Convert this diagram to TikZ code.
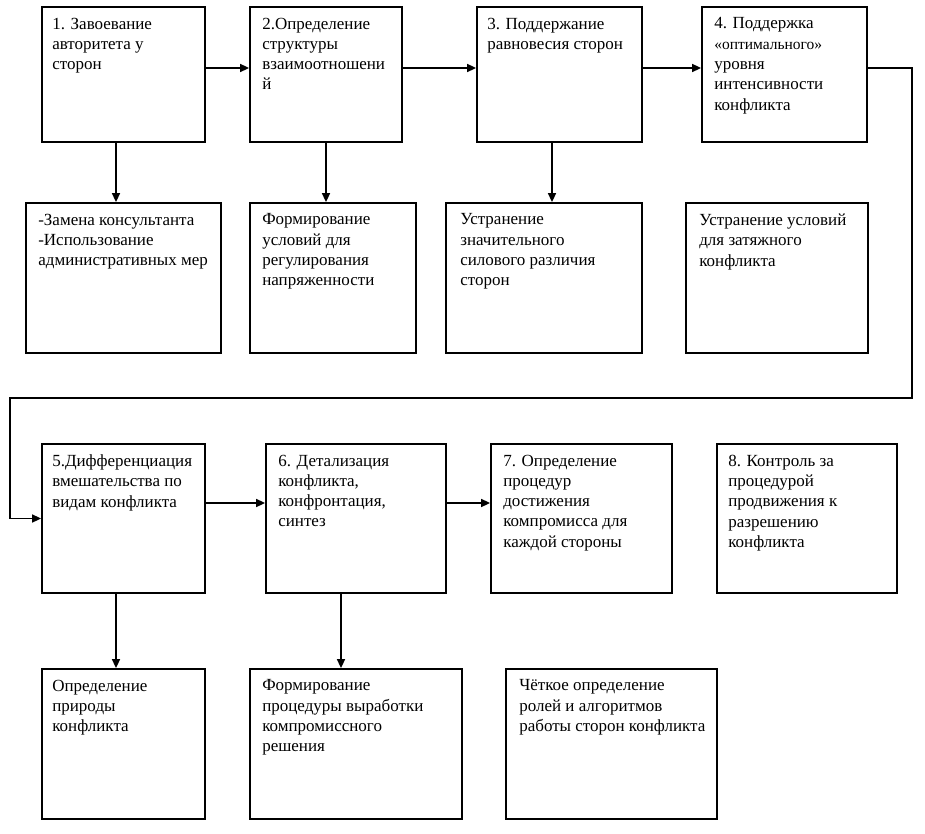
\documentclass[tikz,border=0pt]{standalone}
\usepackage{fontspec}
\setmainfont{Liberation Serif}
\usetikzlibrary{arrows.meta,fit}
\begin{document}
\begin{tikzpicture}[x=1pt,y=-1pt,
  box/.style={draw=black,line width=1.8pt,rectangle,inner sep=0pt},
  txt/.style={anchor=north west,inner sep=0pt,align=left,font=\fontsize{17}{20.3}\selectfont},
  conn/.style={line width=1.6pt},
  arr/.style={conn,-{Triangle[length=9pt,width=8pt]}}]
\fill[white] (0,0) rectangle (925,834);
\useasboundingbox (0,0) rectangle (925,834);
% boxes
\node[box,fit={(42,7) (205,142)}] (b1) {};
\node[box,fit={(250,7) (402,142)}] (b2) {};
\node[box,fit={(477,7) (642,142)}] (b3) {};
\node[box,fit={(702,7) (867,142)}] (b4) {};
\node[box,fit={(26,203) (221,353)}] (c1) {};
\node[box,fit={(250,203) (416,353)}] (c2) {};
\node[box,fit={(446,203) (642,353)}] (c3) {};
\node[box,fit={(686,203) (868,353)}] (c4) {};
\node[box,fit={(42,444) (205,593)}] (b5) {};
\node[box,fit={(266,444) (446,593)}] (b6) {};
\node[box,fit={(491,444) (672,593)}] (b7) {};
\node[box,fit={(717,444) (897,593)}] (b8) {};
\node[box,fit={(42,669) (205,819)}] (d1) {};
\node[box,fit={(250,669) (462,819)}] (d2) {};
\node[box,fit={(506,669) (717,819)}] (d3) {};
% texts
\node[txt] (t1) at ([shift={(11pt,-11.5pt)}]b1.north west) {1. Завоевание\\авторитета у\\сторон};
\node[txt] (t2) at ([shift={(13pt,-11.5pt)}]b2.north west) {2.Определение\\структуры\\взаимоотношени\\й};
\node[txt] (t3) at ([shift={(11pt,-11.5pt)}]b3.north west) {3. Поддержание\\равновесия сторон};
\node[txt] (t4) at ([shift={(13pt,-11.5pt)}]b4.north west) {4. Поддержка\\{\fontsize{15.5}{20.3}\selectfont«оптимального»}\\уровня\\интенсивности\\конфликта};
\node[txt] (u1) at ([shift={(13pt,-11.5pt)}]c1.north west) {-Замена консультанта\\-Использование\\административных мер};
\node[txt] (u2) at ([shift={(13pt,-11.5pt)}]c2.north west) {Формирование\\условий для\\регулирования\\напряженности};
\node[txt] (u3) at ([shift={(15pt,-11.5pt)}]c3.north west) {Устранение\\значительного\\силового различия\\сторон};
\node[txt] (u4) at ([shift={(14pt,-11.5pt)}]c4.north west) {Устранение условий\\для затяжного\\конфликта};
\node[txt] (t5) at ([shift={(11pt,-11.5pt)}]b5.north west) {5.Дифференциация\\вмешательства по\\видам конфликта};
\node[txt] (t6) at ([shift={(13pt,-11.5pt)}]b6.north west) {6. Детализация\\конфликта,\\конфронтация,\\синтез};
\node[txt] (t7) at ([shift={(13pt,-11.5pt)}]b7.north west) {7. Определение\\процедур\\достижения\\компромисса для\\каждой стороны};
\node[txt] (t8) at ([shift={(12pt,-11.5pt)}]b8.north west) {8. Контроль за\\процедурой\\продвижения к\\разрешению\\конфликта};
\node[txt] (v1) at ([shift={(11pt,-11.5pt)}]d1.north west) {Определение\\природы\\конфликта};
\node[txt] (v2) at ([shift={(13pt,-11.5pt)}]d2.north west) {Формирование\\процедуры выработки\\компромиссного\\решения};
\node[txt] (v3) at ([shift={(14pt,-11.5pt)}]d3.north west) {Чёткое определение\\ролей и алгоритмов\\работы сторон конфликта};
% connectors
\draw[arr] ([yshift=6.5pt]b1.east) -- ([yshift=6.5pt]b2.west);
\draw[arr] ([yshift=6.5pt]b2.east) -- ([yshift=6.5pt]b3.west);
\draw[arr] ([yshift=6.5pt]b3.east) -- ([yshift=6.5pt]b4.west);
\coordinate (r1) at (912,398);
\coordinate (l1) at (10,398);
\draw[arr] ([yshift=6.5pt]b4.east) -| (r1) -- (l1) |- (b5.west);
\draw[arr] ([yshift=15.5pt]b5.east) -- ([yshift=15.5pt]b6.west);
\draw[arr] ([yshift=15.5pt]b6.east) -- ([yshift=15.5pt]b7.west);
\draw[arr] ([xshift=-7.5pt]b1.south) -- ([xshift=-7.5pt]b1.south |- c1.north);
\draw[arr] (b2.south) -- (b2.south |- c2.north);
\draw[arr] ([xshift=-7.5pt]b3.south) -- ([xshift=-7.5pt]b3.south |- c3.north);
\draw[arr] ([xshift=-7.5pt]b5.south) -- ([xshift=-7.5pt]b5.south |- d1.north);
\draw[arr] ([xshift=-15pt]b6.south) -- ([xshift=-15pt]b6.south |- d2.north);
\end{tikzpicture}
\end{document}
